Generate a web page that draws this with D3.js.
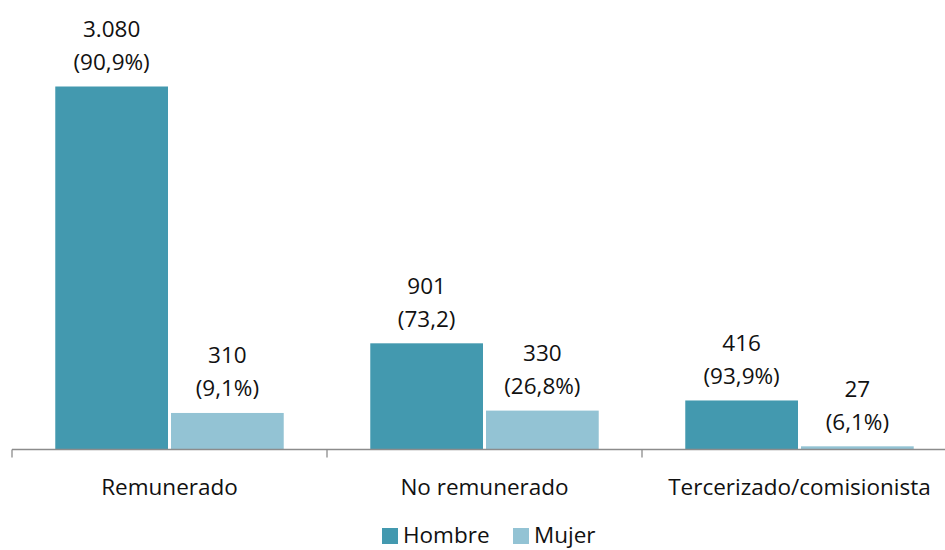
<!DOCTYPE html>
<html>
<head>
<meta charset="utf-8">
<script src="https://cdn.jsdelivr.net/npm/d3@7"></script>
<style>
  html, body { margin: 0; padding: 0; background: #fff; }
  svg { display: block; font-family: "Open Sans", sans-serif; }
</style>
</head>
<body>
<svg id="chart" width="945" height="550"></svg>
<script>
const categories = ['Remunerado', 'No remunerado', 'Tercerizado/comisionista'];
const seriesNames = ['Hombre', 'Mujer'];
const hombre = [3080, 901, 416];
const mujer = [310, 330, 27];
const hombreLabels = [['3.080', '(90,9%)'], ['901', '(73,2)'], ['416', '(93,9%)']];
const mujerLabels = [['310', '(9,1%)'], ['330', '(26,8%)'], ['27', '(6,1%)']];
const colors = ['#4399AF', '#93C3D4'];

const svg = d3.select('#chart');
const baseY = 449.5;
const left = 12, bandW = 315;
const fs = 22.5;

const x = d3.scaleBand(categories, [left, left + bandW * categories.length]).paddingInner(0).paddingOuter(0);
const y = d3.scaleLinear([0, 3500], [baseY, baseY - 412.5]);
const xs = d3.scaleBand(seriesNames, [0, bandW]).paddingInner(3 / 115).paddingOuter(43 / 115);

const rows = categories.map((c, i) => ({ c, vals: [hombre[i], mujer[i]], labels: [hombreLabels[i], mujerLabels[i]] }));

const g = svg.append('g');
rows.forEach((r) => {
  r.vals.forEach((v, j) => {
    const bx = x(r.c) + xs(seriesNames[j]);
    const bw = xs.bandwidth();
    g.append('rect')
      .attr('x', bx).attr('y', y(v))
      .attr('width', bw).attr('height', baseY - y(v))
      .attr('fill', colors[j]);
    const t = g.append('text')
      .attr('text-anchor', 'middle')
      .attr('font-size', fs)
      .attr('fill', '#111');
    t.append('tspan').attr('x', bx + bw / 2).attr('y', y(v) - 58).attr('dominant-baseline', 'central').text(r.labels[j][0]);
    t.append('tspan').attr('x', bx + bw / 2).attr('y', y(v) - 25).attr('dominant-baseline', 'central').text(r.labels[j][1]);
  });
});

// axis
const ax = svg.append('g');
ax.append('line').attr('x1', left).attr('x2', 945).attr('y1', baseY).attr('y2', baseY)
  .attr('stroke', '#8c8c8c').attr('stroke-width', 1.3);
[0, 1, 2].forEach((i) => {
  const tx = left + i * bandW;
  ax.append('line').attr('x1', tx).attr('x2', tx).attr('y1', baseY).attr('y2', baseY + 8)
    .attr('stroke', '#8c8c8c').attr('stroke-width', 1.3);
});
ax.selectAll('text.cat').data(categories).join('text')
  .attr('class', 'cat')
  .attr('x', (d) => x(d) + bandW / 2)
  .attr('y', 486)
  .attr('dominant-baseline', 'central')
  .attr('text-anchor', 'middle')
  .attr('font-size', fs)
  .attr('fill', '#111')
  .text((d) => d);

// legend
const legend = svg.append('g');
const legX = [382, 513];
seriesNames.forEach((s, i) => {
  legend.append('rect').attr('x', legX[i]).attr('y', 528).attr('width', 16).attr('height', 16).attr('fill', colors[i]);
  legend.append('text').attr('x', legX[i] + 21).attr('y', 534).attr('dominant-baseline', 'central')
    .attr('font-size', fs).attr('fill', '#111').text(s);
});
</script>
</body>
</html>
